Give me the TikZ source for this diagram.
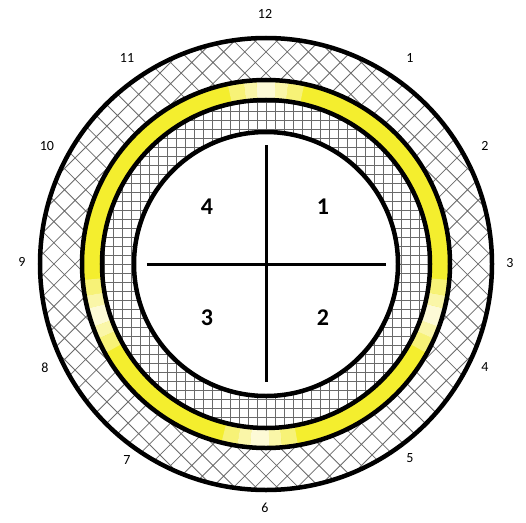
\documentclass[tikz,border=0pt]{standalone}
\usepackage{fontspec}
\setmainfont{Carlito}
\definecolor{ckdYellow}{HTML}{F4EE2E}
\definecolor{ckdGlowA}{HTML}{F7F277}
\definecolor{ckdGlowB}{HTML}{FAF6A8}
\definecolor{ckdGlowC}{HTML}{FDFAD6}
\definecolor{ckdGray}{HTML}{6A6A6A}
\tikzset{
  ckd rim/.style={draw=black, line width=4.5pt},
  ckd arm/.style={draw=black, line width=3pt},
  ckd mesh/.style={draw=ckdGray, line width=0.8pt},
  ckd hour/.style={font=\fontsize{14}{16}\selectfont, text=black},
  ckd quad/.style={font=\fontsize{24}{28}\selectfont\bfseries, text=black},
}

\begin{document}
\begin{tikzpicture}[x=1pt,y=1pt]
  \useasboundingbox (-266,-258) rectangle (260,264);
  \fill[white] (-266,-258) rectangle (260,264);
  % rings
  \begin{scope}
    \clip (0,0) circle (226pt);
    \draw[ckd mesh, rotate=45, step=15pt] (-248,-248) grid (248,248);
  \end{scope}
  \fill[ckdYellow] (0,0) circle (184pt);
  \begin{scope}
    \clip (0,0) circle (164pt);
    \fill[white] (0,0) circle (164pt);
    \draw[ckd mesh, step=9pt] (-166,-166) grid (166,166);
  \end{scope}
  \fill[white] (0,0) circle (132pt);
  % pale spots on the yellow band
  \foreach \c in {90,-17,-92,197}
    \foreach \a/\b/\col in {-12/-7/ckdGlowA, -7/-3/ckdGlowB, -3/3/ckdGlowC, 3/7/ckdGlowB, 7/12/ckdGlowA}
      \fill[\col] (\c+\a:184pt) arc (\c+\a:\c+\b:184pt) -- (\c+\b:164pt) arc (\c+\b:\c+\a:164pt) -- cycle;
  \draw[ckd rim] (0,0) circle (226pt) (0,0) circle (184pt) (0,0) circle (164pt) (0,0) circle (132pt);
  % cross
  \coordinate (top) at (0,119);
  \coordinate (bot) at (0,-118);
  \coordinate (lft) at (-119,0);
  \coordinate (rgt) at (120,0);
  \draw[ckd arm] (top) -- (bot);
  \draw[ckd arm] (lft) -- (rgt);
  \node[ckd quad] (q1) at (57,57) {1};
  \node[ckd quad] (q2) at (57,-54) {2};
  \node[ckd quad] (q3) at (-59,-54) {3};
  \node[ckd quad] (q4) at (-59,57) {4};
  % hours
  \node[ckd hour] (h12) at (-1,250) {12};
  \node[ckd hour] (h1) at (144,206) {1};
  \node[ckd hour] (h2) at (219,118) {2};
  \node[ckd hour] (h3) at (244,1) {3};
  \node[ckd hour] (h4) at (219,-103) {4};
  \node[ckd hour] (h5) at (144,-194) {5};
  \node[ckd hour] (h6) at (-1,-244) {6};
  \node[ckd hour] (h7) at (-139,-196) {7};
  \node[ckd hour] (h8) at (-221,-104) {8};
  \node[ckd hour] (h9) at (-244,2) {9};
  \node[ckd hour] (h10) at (-219,118) {10};
  \node[ckd hour] (h11) at (-139,206) {11};
\end{tikzpicture}
\end{document}
